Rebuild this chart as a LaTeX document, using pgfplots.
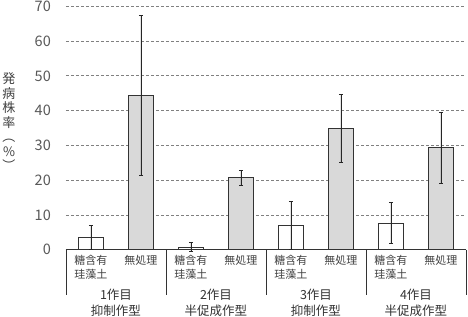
\documentclass[border=0pt]{standalone}
\usepackage{fontspec}
\setmainfont{Noto Sans CJK JP}
\usepackage{pgfplots}
\usepackage{pgfplotstable}
\pgfplotsset{compat=1.18}
\definecolor{barg}{HTML}{D9D9D9}
\definecolor{bord}{HTML}{333333}
\definecolor{txt}{HTML}{404040}
\definecolor{tick}{HTML}{595959}
\definecolor{gridc}{HTML}{808080}
\pgfplotstableread{
x y e
0.25 3.45 3.45
1.25 0.7 1.3
2.25 7.0 7.0
3.25 7.6 5.9
}\treated
\pgfplotstableread{
x y e
0.75 44.4 22.9
1.75 20.7 2.2
2.75 34.9 9.8
3.75 29.3 10.3
}\untreated
\tikzset{sep/.style={bord, line width=0.9bp},
  grp/.style={anchor=north, inner sep=0pt, align=center, text=bord,
    font=\fontsize{12.5bp}{15.7bp}\selectfont, yshift=-39bp}}
\begin{document}
\begin{tikzpicture}
\begin{axis}[
  scale only axis, width=400bp, height=243.4bp,
  xmin=0, xmax=4, ymin=0, ymax=70,
  ytick={0,10,...,70},
  /pgf/number format/assume math mode=true,
  ymajorgrids,
  grid style={gridc, line width=0.7bp, dash pattern=on 3bp off 2bp},
  axis x line*=bottom, axis y line*=left,
  x axis line style={bord, line width=0.9bp, -},
  y axis line style={draw=none},
  major tick length=0pt,
  xtick={0.25,0.75,1.25,1.75,2.25,2.75,3.25,3.75},
  xticklabels={{糖含有\\珪藻土},無処理,{糖含有\\珪藻土},無処理,{糖含有\\珪藻土},無処理,{糖含有\\珪藻土},無処理},
  xticklabel style={align=center, anchor=north, inner sep=0pt, yshift=-5.5bp,
    font=\fontsize{11bp}{14.3bp}\selectfont, text=txt},
  yticklabel style={anchor=east, inner sep=0pt, xshift=-15bp,
    font=\fontsize{14.5bp}{14.5bp}\selectfont, text=tick},
  clip=false,
]
\addplot[ybar, bar width=25bp, bar shift=0pt, fill=white, draw=bord, line width=0.9bp,
  error bars/.cd, y dir=both, y explicit,
  error bar style={black!85, line width=0.8bp},
  error mark options={rotate=90, mark size=2.2bp, line width=0.8bp, black!85}]
  table[x=x, y=y, y error=e]{\treated};
\addplot[ybar, bar width=25bp, bar shift=0pt, fill=barg, draw=bord, line width=0.9bp,
  error bars/.cd, y dir=both, y explicit,
  error bar style={black!85, line width=0.8bp},
  error mark options={rotate=90, mark size=2.2bp, line width=0.8bp, black!85}]
  table[x=x, y=y, y error=e]{\untreated};
\draw[sep] (axis cs:0,0) -- ++(0,-47.3bp);
\draw[sep] (axis cs:1,0) -- ++(0,-47.3bp);
\draw[sep] (axis cs:2,0) -- ++(0,-47.3bp);
\draw[sep] (axis cs:3,0) -- ++(0,-47.3bp);
\draw[sep] (axis cs:4,0) -- ++(0,-47.3bp);
\node[grp] at (axis cs:0.5,0) {1作目\\抑制作型};
\node[grp] at (axis cs:1.5,0) {2作目\\半促成作型};
\node[grp] at (axis cs:2.5,0) {3作目\\抑制作型};
\node[grp] at (axis cs:3.5,0) {4作目\\半促成作型};
\end{axis}
\node[align=center, inner sep=0pt, text=txt, font=\fontsize{13bp}{14.5bp}\selectfont]
  at (-57bp,127.7bp) {発\\病\\株\\率\\︵\\\%\\︶};
\pgfresetboundingbox
\useasboundingbox (-66bp,-67.3bp) rectangle (402bp,249.7bp);
\end{tikzpicture}
\end{document}
